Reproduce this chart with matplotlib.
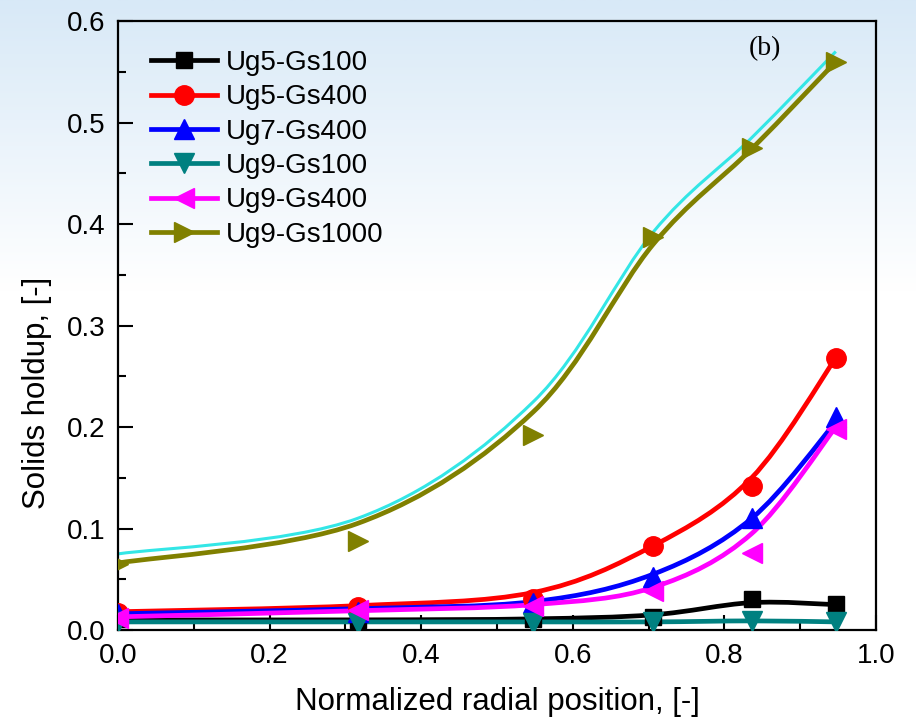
import numpy as np
import matplotlib
matplotlib.use("Agg")
import matplotlib.pyplot as plt
from matplotlib.path import Path
from matplotlib.patches import PathPatch
from matplotlib.ticker import MultipleLocator, FormatStrFormatter
from matplotlib.colors import LinearSegmentedColormap

plt.rcParams['font.family'] = ['Liberation Sans', 'DejaVu Sans']

# ---- data ----
x_pos = [0.0, 0.316, 0.548, 0.706, 0.836, 0.947]

labels = ["Ug5-Gs100", "Ug5-Gs400", "Ug7-Gs400", "Ug9-Gs100", "Ug9-Gs400", "Ug9-Gs1000"]

ug5_gs100_pts = [0.011, 0.010, 0.011, 0.013, 0.031, 0.026]
ug5_gs400_pts = [0.017, 0.023, 0.031, 0.083, 0.142, 0.268]
ug7_gs400_pts = [0.016, 0.018, 0.027, 0.052, 0.110, 0.210]
ug9_gs100_pts = [0.008, 0.007, 0.007, 0.008, 0.009, 0.008]
ug9_gs400_pts = [0.012, 0.020, 0.024, 0.038, 0.076, 0.198]
ug9_gs1000_pts = [0.065, 0.088, 0.192, 0.387, 0.475, 0.560]

# smoothed fit curves (values of fitted curve at x_pos)
ug5_gs100_fit = [0.010, 0.010, 0.011, 0.015, 0.027, 0.025]
ug5_gs400_fit = [0.018, 0.024, 0.037, 0.083, 0.150, 0.268]
ug7_gs400_fit = [0.016, 0.021, 0.028, 0.055, 0.110, 0.205]
ug9_gs100_fit = [0.008, 0.008, 0.008, 0.008, 0.009, 0.008]
ug9_gs400_fit = [0.013, 0.019, 0.025, 0.042, 0.095, 0.200]
ug9_gs1000_fit = [0.066, 0.105, 0.215, 0.380, 0.474, 0.560]
extra_fit = [0.075, 0.110, 0.225, 0.392, 0.485, 0.570]

colors = ["black", "red", "blue", "#008080", "magenta", "#808000"]
markers = ["s", "o", "^", "v", "<", ">"]
msizes = [12, 14, 15, 15, 15, 15]

pts = [ug5_gs100_pts, ug5_gs400_pts, ug7_gs400_pts, ug9_gs100_pts, ug9_gs400_pts, ug9_gs1000_pts]
fits = [ug5_gs100_fit, ug5_gs400_fit, ug7_gs400_fit, ug9_gs100_fit, ug9_gs400_fit, ug9_gs1000_fit]


def smooth_path(xs, ys):
    P = np.column_stack([xs, ys]).astype(float)
    n = len(P)
    verts = [P[0]]
    codes = [Path.MOVETO]
    for i in range(n - 1):
        p0 = P[i - 1] if i > 0 else P[i]
        p1 = P[i]
        p2 = P[i + 1]
        p3 = P[i + 2] if i + 2 < n else P[i + 1]
        c1 = p1 + (p2 - p0) / 6.0
        c2 = p2 - (p3 - p1) / 6.0
        verts += [c1, c2, p2]
        codes += [Path.CURVE4] * 3
    return Path(np.array(verts), codes)


fig = plt.figure(figsize=(9.16, 7.26), dpi=100)

# background gradient
bg = fig.add_axes([0, 0, 1, 1], zorder=-10)
grad = np.linspace(0, 1, 256).reshape(-1, 1)
cmap = LinearSegmentedColormap.from_list("bgc", [(0.0, "#d8e9f7"), (0.4, "#ffffff"), (1.0, "#ffffff")])
bg.imshow(grad, aspect='auto', cmap=cmap, extent=[0, 1, 0, 1], origin='upper')
bg.axis('off')

ax = fig.add_axes([0.1288, 0.1322, 0.8275, 0.8388])
ax.set_facecolor('none')

# extra cyan curve
ax.add_patch(PathPatch(smooth_path(x_pos, extra_fit), fill=False, edgecolor="#33e6e6", lw=2.2, zorder=2))

for lab, c, m, ms, p, f in zip(labels, colors, markers, msizes, pts, fits):
    ax.add_patch(PathPatch(smooth_path(x_pos, f), fill=False, edgecolor=c, lw=3.4, zorder=3))
    ax.plot(x_pos, p, linestyle='none', marker=m, color=c, markersize=ms, zorder=4)
    ax.plot([], [], color=c, lw=3.4, marker=m, markersize=ms, label=lab)

ax.set_xlim(0, 1.0)
ax.set_ylim(0, 0.6)
ax.xaxis.set_major_locator(MultipleLocator(0.2))
ax.xaxis.set_minor_locator(MultipleLocator(0.1))
ax.yaxis.set_major_locator(MultipleLocator(0.1))
ax.yaxis.set_minor_locator(MultipleLocator(0.05))
ax.xaxis.set_major_formatter(FormatStrFormatter('%.1f'))
ax.yaxis.set_major_formatter(FormatStrFormatter('%.1f'))
ax.tick_params(which='major', direction='in', length=11, width=1.5, labelsize=20, pad=9)
ax.tick_params(which='minor', direction='in', length=6, width=1.5)
ax.tick_params(top=False, right=False, which='both')
for s in ax.spines.values():
    s.set_linewidth(1.6)

ax.set_xlabel("Normalized radial position, [-]", fontsize=22.5)
ax.xaxis.set_label_coords(0.5, -0.093)
ax.set_ylabel("Solids holdup, [-]", fontsize=22.5)
ax.yaxis.set_label_coords(-0.087, 0.39)

ax.text(0.854, 0.975, "(b)", transform=ax.transAxes, fontsize=20, family=['Liberation Serif', 'DejaVu Serif'],
        ha='center', va='top')

leg = ax.legend(loc='upper left', bbox_to_anchor=(0.021, 0.98), frameon=False, fontsize=20,
                handlelength=2.4, labelspacing=0.3, handletextpad=0.3, borderaxespad=0.2)

fig.savefig("out.png", dpi=100)
